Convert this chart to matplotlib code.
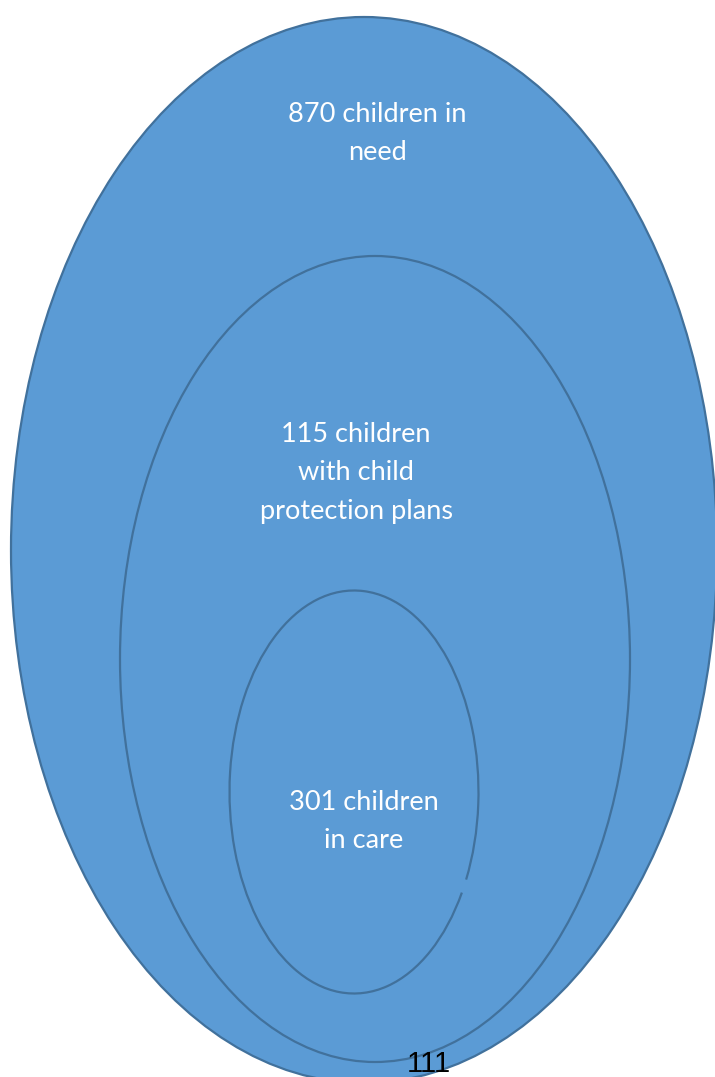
import matplotlib
matplotlib.use("Agg")
import matplotlib.pyplot as plt
from matplotlib.patches import Ellipse, Arc

# Data
counts = [870, 115, 301]
descriptions = ["children in\nneed", "children\nwith child\nprotection plans", "children\nin care"]
page_number = "111"

# Layout (pixel space of the page)
W, H = 715, 1077
centers = [(364, 550), (375, 659), (354, 792)]
sizes = [(706, 1066), (510, 806), (249, 403)]
label_pos = [(377, 115), (356, 435), (364, 802)]
line_step = 38
fill = "#5B9BD5"
edge = "#41719C"

fig = plt.figure(figsize=(W / 100, H / 100), dpi=100)
ax = fig.add_axes([0, 0, 1, 1])
ax.set_xlim(0, W)
ax.set_ylim(H, 0)
ax.axis("off")

for i, ((cx, cy), (w, h)) in enumerate(zip(centers, sizes)):
    ax.add_patch(Ellipse((cx, cy), w, h, facecolor=fill, edgecolor="none", zorder=1 + i))
    if i == 2:
        ax.add_patch(Arc((cx, cy), w, h, theta1=43, theta2=398, edgecolor=edge, lw=1.6, zorder=1 + i))
    else:
        ax.add_patch(Ellipse((cx, cy), w, h, facecolor="none", edgecolor=edge, lw=1.6, zorder=1 + i))

for n, desc, (x, y) in zip(counts, descriptions, label_pos):
    lines = (f"{n} " + desc).split("\n")
    for k, line in enumerate(lines):
        ax.text(x, y + k * line_step, line, color="white", ha="center", va="center",
                fontsize=19.5, family=["Lato", "DejaVu Sans"], zorder=10)

ax.text(429, 1064, page_number, color="black", ha="center", va="center",
        fontsize=21, family=["Liberation Sans", "DejaVu Sans"], zorder=10)

fig.savefig("out.png", dpi=100)
